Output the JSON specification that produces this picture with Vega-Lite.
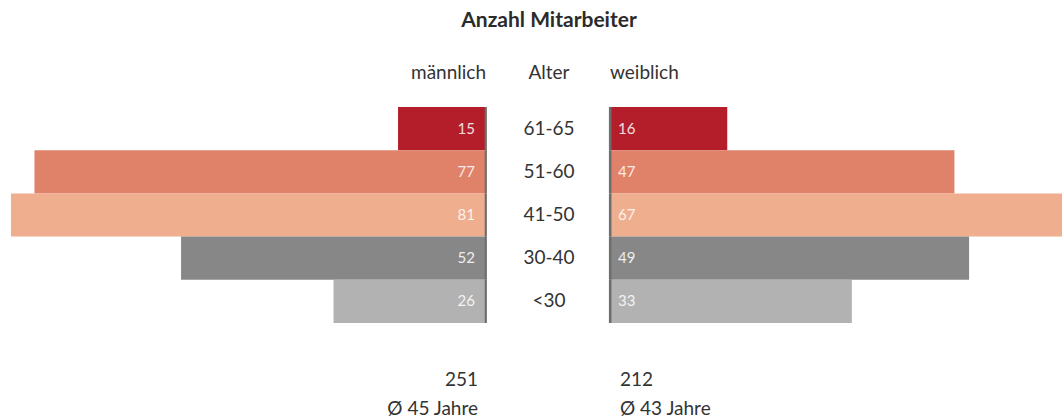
{
  "$schema": "https://vega.github.io/schema/vega-lite/v6.json",
  "width": 1062,
  "height": 216,
  "autosize": {"type": "none"},
  "padding": {"top": 107, "bottom": 95, "left": 0, "right": 0},
  "background": "white",
  "config": {"view": {"stroke": null}, "text": {"font": "Lato", "color": "#333333"}},
  "title": {"text": "Anzahl Mitarbeiter", "anchor": "middle", "dx": 18, "offset": 16, "baseline": "alphabetic", "fontSize": 21, "font": "Lato", "fontWeight": "bold", "color": "#2b2b2b"},
  "datasets": {
    "ages": [
      {"age": "61-65", "male": 15, "female": 16},
      {"age": "51-60", "male": 77, "female": 47},
      {"age": "41-50", "male": 81, "female": 67},
      {"age": "30-40", "male": 52, "female": 49},
      {"age": "<30", "male": 26, "female": 33}
    ],
    "maleHead": [{"label": "männlich"}],
    "femaleHead": [{"label": "weiblich"}],
    "midHead": [{"label": "Alter"}],
    "maleSum": [{"label": "251\nØ 45 Jahre"}],
    "femaleSum": [{"label": "212\nØ 43 Jahre"}]
  },
  "data": {"name": "ages"},
  "resolve": {"scale": {"x": "independent"}},
  "layer": [
    {
      "layer": [
        {
          "mark": {"type": "bar"},
          "encoding": {
            "y": {"field": "age", "type": "nominal", "sort": null, "scale": {"domain": ["61-65", "51-60", "41-50", "30-40", "<30"], "paddingInner": 0, "paddingOuter": 0}, "axis": null},
            "x": {"field": "male", "type": "quantitative", "scale": {"domain": [0, 81], "range": [486, 11], "nice": false, "zero": false}, "axis": null},
            "x2": {"datum": 0},
            "color": {"field": "age", "type": "nominal", "scale": {"domain": ["61-65", "51-60", "41-50", "30-40", "<30"], "range": ["#b41e2b", "#e0816a", "#efae8e", "#878787", "#b2b2b2"]}, "legend": null}
          }
        },
        {
          "mark": {"type": "bar", "color": "#6e6e6e"},
          "encoding": {
            "y": {"field": "age", "type": "nominal", "sort": null},
            "x": {"datum": -0.15, "type": "quantitative"},
            "x2": {"datum": 0.22}
          }
        },
        {
          "mark": {"type": "text", "align": "right", "baseline": "middle", "dx": -11, "fontSize": 15, "color": "white", "opacity": 0.85},
          "encoding": {
            "y": {"field": "age", "type": "nominal", "sort": null},
            "x": {"datum": 0, "type": "quantitative"},
            "text": {"field": "male", "type": "quantitative"}
          }
        },
        {
          "mark": {"type": "text", "align": "center", "baseline": "middle", "dx": 63, "fontSize": 19, "color": "#333333"},
          "encoding": {
            "y": {"field": "age", "type": "nominal", "sort": null},
            "x": {"datum": 0, "type": "quantitative"},
            "text": {"field": "age", "type": "nominal"}
          }
        },
        {
          "data": {"name": "maleHead"},
          "mark": {"type": "text", "align": "right", "baseline": "alphabetic", "dy": -50, "fontSize": 19, "color": "#333333"},
          "encoding": {
            "y": {"datum": "61-65", "type": "nominal"},
            "x": {"datum": 0, "type": "quantitative"},
            "text": {"field": "label", "type": "nominal"}
          }
        },
        {
          "data": {"name": "midHead"},
          "mark": {"type": "text", "align": "center", "baseline": "alphabetic", "dx": 63, "dy": -50, "fontSize": 19, "color": "#333333"},
          "encoding": {
            "y": {"datum": "61-65", "type": "nominal"},
            "x": {"datum": 0, "type": "quantitative"},
            "text": {"field": "label", "type": "nominal"}
          }
        },
        {
          "data": {"name": "maleSum"},
          "mark": {"type": "text", "align": "right", "baseline": "alphabetic", "dx": -8, "dy": 85, "lineBreak": "\n", "lineHeight": 29, "fontSize": 19, "color": "#333333"},
          "encoding": {
            "y": {"datum": "<30", "type": "nominal"},
            "x": {"datum": 0, "type": "quantitative"},
            "text": {"field": "label", "type": "nominal"}
          }
        }
      ]
    },
    {
      "layer": [
        {
          "mark": {"type": "bar", "clip": true},
          "encoding": {
            "y": {"field": "age", "type": "nominal", "sort": null},
            "x": {"field": "female", "type": "quantitative", "scale": {"domain": [0, 67], "range": [610, 1101], "nice": false, "zero": false}, "axis": null},
            "x2": {"datum": 0},
            "color": {"field": "age", "type": "nominal", "legend": null}
          }
        },
        {
          "mark": {"type": "bar", "color": "#6e6e6e"},
          "encoding": {
            "y": {"field": "age", "type": "nominal", "sort": null},
            "x": {"datum": -0.15, "type": "quantitative"},
            "x2": {"datum": 0.2}
          }
        },
        {
          "mark": {"type": "text", "align": "left", "baseline": "middle", "dx": 8, "fontSize": 15, "color": "white", "opacity": 0.85},
          "encoding": {
            "y": {"field": "age", "type": "nominal", "sort": null},
            "x": {"datum": 0, "type": "quantitative"},
            "text": {"field": "female", "type": "quantitative"}
          }
        },
        {
          "data": {"name": "femaleHead"},
          "mark": {"type": "text", "align": "left", "baseline": "alphabetic", "dy": -50, "fontSize": 19, "color": "#333333"},
          "encoding": {
            "y": {"datum": "61-65", "type": "nominal"},
            "x": {"datum": 0, "type": "quantitative"},
            "text": {"field": "label", "type": "nominal"}
          }
        },
        {
          "data": {"name": "femaleSum"},
          "mark": {"type": "text", "align": "left", "baseline": "alphabetic", "dx": 10, "dy": 85, "lineBreak": "\n", "lineHeight": 29, "fontSize": 19, "color": "#333333"},
          "encoding": {
            "y": {"datum": "<30", "type": "nominal"},
            "x": {"datum": 0, "type": "quantitative"},
            "text": {"field": "label", "type": "nominal"}
          }
        }
      ]
    }
  ]
}
